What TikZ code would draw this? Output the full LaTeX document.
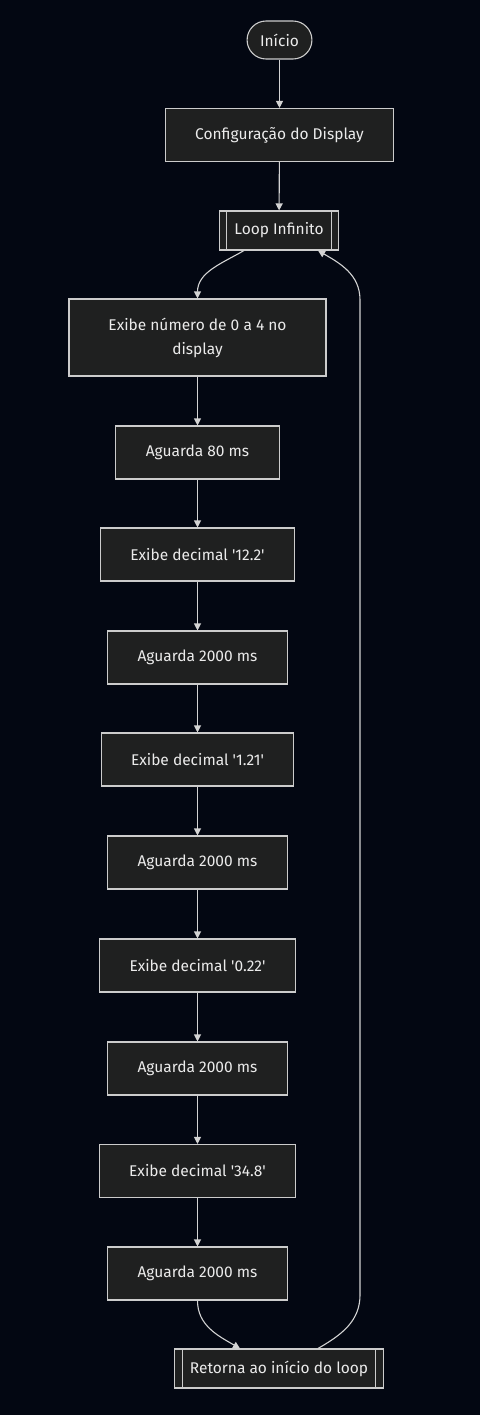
\documentclass[tikz,border=0pt]{standalone}
\usepackage{fontspec}
\setmainfont{Fira Sans}
\usepackage{tikz}
\usetikzlibrary{arrows.meta,positioning}
\definecolor{bgx}{HTML}{030712}
\definecolor{fillx}{HTML}{1F2020}
\definecolor{edgex}{HTML}{CCCCCC}
\definecolor{linex}{HTML}{D3D3D3}
\definecolor{textx}{HTML}{EBEBEB}
\tikzset{
  ar/.style={-{Triangle[length=7pt,width=7pt]},line width=1.1pt,linex},
  box/.style={draw=edgex,line width=1.1pt,fill=fillx,text=textx,align=center,inner xsep=30pt,minimum height=53pt,font=\fontsize{15.5}{24}\selectfont},
  term/.style={box,rounded corners=19pt,minimum height=38pt,inner xsep=13pt},
  sub/.style={box,minimum height=39pt,inner xsep=15pt},
  bar/.style={draw=edgex,line width=1.1pt}
}

\begin{document}
\begin{tikzpicture}[x=1pt,y=1pt]
\fill[bgx] (0,0) rectangle (480,-1415);
% start and set-up
\node[term] (ini) at (279.5,-40) {Início};
\node[box] (cfg) at (279.5,-135) {Configuração do Display};
\node[sub] (loop) at (279,-230.5) {Loop Infinito};
\draw[bar] ([xshift=8pt]loop.north west) -- ([xshift=8pt]loop.south west);
\draw[bar] ([xshift=-8pt]loop.north east) -- ([xshift=-8pt]loop.south east);
% loop body
\node[box,minimum height=77pt,minimum width=257pt] (num) at (197.5,-337.5) {Exibe número de 0 a 4 no\\display};
\node[box] (w80) at (197.5,-452.5) {Aguarda 80 ms};
\node[box] (da) at (197.5,-554.5) {Exibe decimal \textquotesingle 12.2\textquotesingle};
\node[box] (wa) at (197.5,-657.5) {Aguarda 2000 ms};
\node[box] (db) at (197.5,-759.5) {Exibe decimal \textquotesingle 1.21\textquotesingle};
\node[box] (wb) at (197.5,-862.5) {Aguarda 2000 ms};
\node[box] (dc) at (197.5,-965.5) {Exibe decimal \textquotesingle 0.22\textquotesingle};
\node[box] (wc) at (197.5,-1068.5) {Aguarda 2000 ms};
\node[box] (dd) at (197.5,-1171) {Exibe decimal \textquotesingle 34.8\textquotesingle};
\node[box] (wd) at (197.5,-1273.5) {Aguarda 2000 ms};
\node[sub] (ret) at (279,-1368.5) {Retorna ao início do loop};
\draw[bar] ([xshift=8pt]ret.north west) -- ([xshift=8pt]ret.south west);
\draw[bar] ([xshift=-8pt]ret.north east) -- ([xshift=-8pt]ret.south east);
\coordinate (rb) at (360,-1295);
\coordinate (rt) at (360,-300);
% connectors
\draw[ar] (ini) -- (cfg);
\draw[ar] (cfg) -- (loop);
\draw[ar] ([xshift=-35pt]loop.south) to[out=-150,in=90] (num.north);
\draw[ar] (num) -- (w80);
\draw[ar] (w80) -- (da);
\draw[ar] (da) -- (wa);
\draw[ar] (wa) -- (db);
\draw[ar] (db) -- (wb);
\draw[ar] (wb) -- (dc);
\draw[ar] (dc) -- (wc);
\draw[ar] (wc) -- (dd);
\draw[ar] (dd) -- (wd);
\draw[ar] (wd.south) to[out=-90,in=150] ([xshift=-39pt]ret.north);
\draw[ar] ([xshift=39pt]ret.north) to[out=30,in=-90] (rb) -- (rt) to[out=90,in=-30] ([xshift=39pt]loop.south);
\end{tikzpicture}
\end{document}
